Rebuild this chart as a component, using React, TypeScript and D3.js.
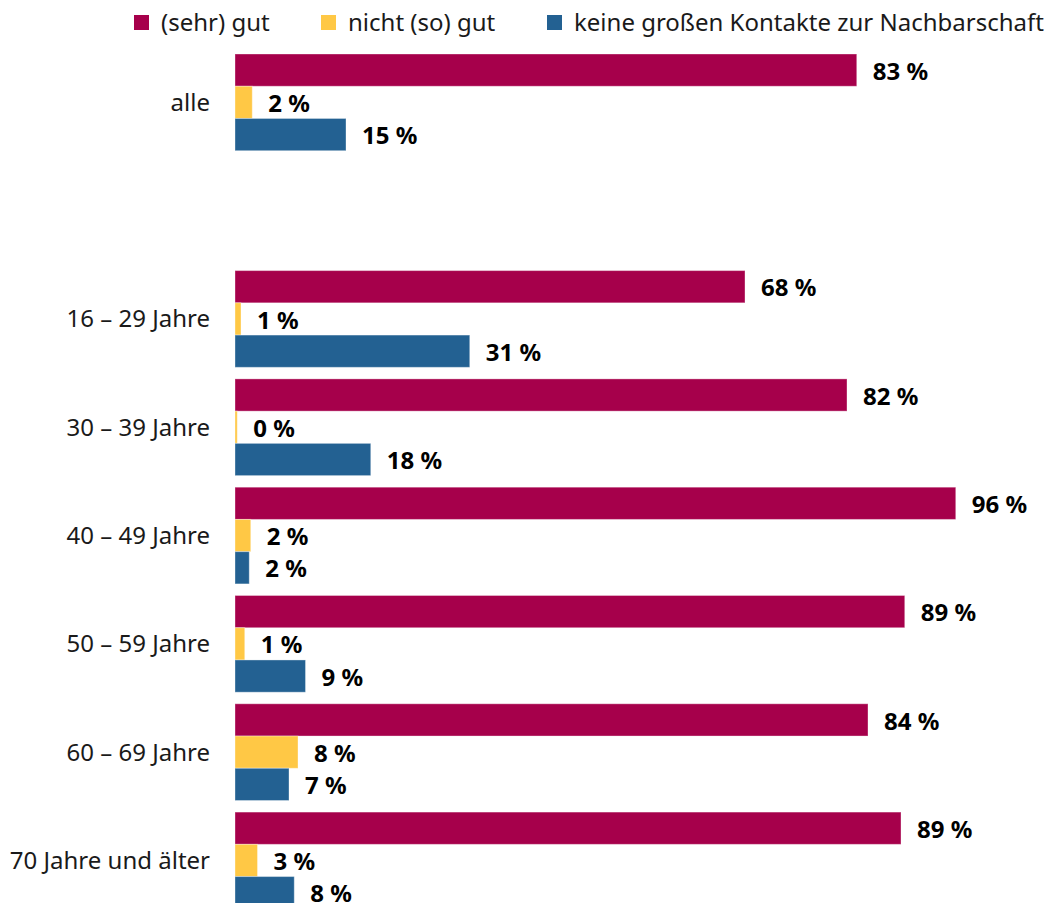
import React from "react";
import * as d3 from "d3";

const categories = ["alle", "", "16 – 29 Jahre", "30 – 39 Jahre", "40 – 49 Jahre", "50 – 59 Jahre", "60 – 69 Jahre", "70 Jahre und älter"];
const seriesNames = ["(sehr) gut", "nicht (so) gut", "keine großen Kontakte zur Nachbarschaft"];
const seriesColors = ["#A6004B", "#FFC845", "#236192"];
const sehrGut = [82.9, null, 68.0, 81.6, 96.1, 89.3, 84.4, 88.8];
const nichtGut = [2.3, null, 0.8, 0.3, 2.1, 1.3, 8.4, 3.0];
const keineKontakte = [14.8, null, 31.3, 18.1, 1.9, 9.4, 7.2, 7.9];
const seriesValues = [sehrGut, nichtGut, keineKontakte];

const W = 1048;
const H = 903;
const FONT = "'Noto Sans', 'Open Sans', sans-serif";

export default function App() {
  const x = d3.scaleLinear().domain([0, 100]).range([235, 985]);
  const y = d3.scaleBand().domain(categories).range([54, 908.8]).paddingInner(0.107).paddingOuter(0);
  const inner = d3.scaleBand().domain(seriesNames).range([0, y.bandwidth()]).padding(0);
  const legendX = [134, 321, 547];

  return (
    <svg width={W} height={H} style={{ display: "block", position: "absolute", left: 0, top: 0 }} fontFamily={FONT}>
      <rect width={W} height={H} fill="#fff" />
      {seriesNames.map((s, i) => (
        <g key={s} transform={`translate(${legendX[i]},0)`}>
          <rect x={0} y={15} width={15} height={15} fill={seriesColors[i]} />
          <text x={27} y={22.5} dy="0.35em" fontSize={24} fill="#1a1a1a">{s}</text>
        </g>
      ))}
      {categories.map((c, ci) => {
        if (!c) return null;
        const y0 = y(c)!;
        return (
          <g key={c}>
            <text x={210} y={y0 + y.bandwidth() / 2} dy="0.35em" textAnchor="end" fontSize={24} fill="#1a1a1a">{c}</text>
            {seriesNames.map((s, si) => {
              const v = seriesValues[si][ci] as number;
              const by = y0 + inner(s)!;
              const bh = inner.bandwidth();
              return (
                <g key={s}>
                  <rect x={x(0)} y={by} width={x(v) - x(0)} height={bh} fill={seriesColors[si]} stroke="#ffffff" strokeOpacity={0.35} strokeWidth={1} />
                  <text x={x(v) + 16} y={by + bh / 2} dy="0.4em" fontSize={24} fontWeight="bold" fill="#000">{`${Math.round(v)} %`}</text>
                </g>
              );
            })}
          </g>
        );
      })}
    </svg>
  );
}
